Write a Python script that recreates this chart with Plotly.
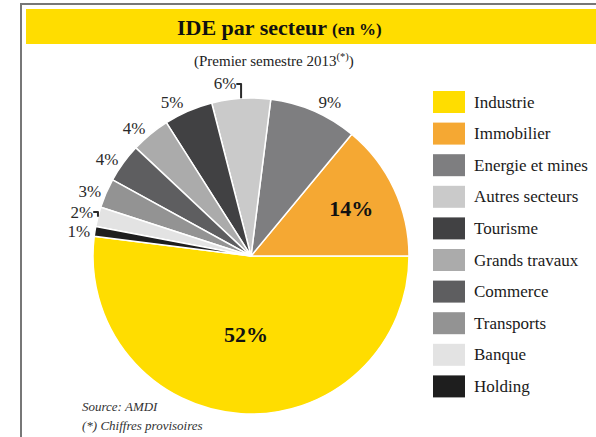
import plotly.graph_objects as go

# ---- data ----
categories = ["Industrie", "Immobilier", "Energie et mines", "Autres secteurs", "Tourisme",
              "Grands travaux", "Commerce", "Transports", "Banque", "Holding"]
values = [52, 14, 9, 6, 5, 4, 4, 3, 2, 1]
colors = ["#FFDD00", "#F5A833", "#7E7E80", "#CACACA", "#414143",
          "#ABABAB", "#5E5E60", "#939393", "#E3E3E3", "#1E1E1E"]
text_positions = ["inside", "inside"] + ["outside"] * 8
text_templates = ["<b>%{value}%</b>", "<b>%{value}%</b>"] + ["%{value}%"] * 8

W, H = 596, 437
SERIF = "Liberation Serif"

def px(x):
    return x / W

def py(y):
    return 1 - y / H

fig = go.Figure()
fig.add_trace(go.Pie(
    labels=categories,
    values=values,
    sort=False,
    direction="counterclockwise",
    rotation=90,
    marker=dict(colors=colors, line=dict(color="white", width=1.5)),
    texttemplate=text_templates,
    textposition=text_positions,
    insidetextorientation="horizontal",
    insidetextfont=dict(family=SERIF, size=22, color="#111"),
    outsidetextfont=dict(family=SERIF, size=17, color="#2a2a2a"),
    showlegend=False,
    domain=dict(x=[px(93), px(409)], y=[py(414), py(98)]),
))

shapes = [
    # title bar
    dict(type="rect", xref="paper", yref="paper", x0=px(26), x1=1, y0=py(44), y1=py(9),
         fillcolor="#FFDD00", line=dict(width=0), layer="below"),
    # frame
    dict(type="path", xref="paper", yref="paper",
         path=f"M {px(21)} 0 L {px(21)} {py(4)} L 1 {py(4)}",
         line=dict(color="#777", width=2)),
]
annotations = [
    dict(text="<b>IDE par secteur <span style='font-size:17px'>(en %)</span></b>",
         x=px(279), y=py(27), xref="paper", yref="paper", showarrow=False,
         font=dict(family=SERIF, size=22, color="#111"), xanchor="center", yanchor="middle"),
    dict(text="(Premier semestre 2013<sup>(*)</sup>)",
         x=px(274), y=py(60), xref="paper", yref="paper", showarrow=False,
         font=dict(family=SERIF, size=15, color="#222"), xanchor="center", yanchor="middle"),
    dict(text="<i>Source: AMDI</i>", x=px(80), y=py(406), xref="paper", yref="paper",
         showarrow=False, font=dict(family=SERIF, size=13, color="#333"),
         xanchor="left", yanchor="middle"),
    dict(text="<i>(*) Chiffres provisoires</i>", x=px(80), y=py(425), xref="paper", yref="paper",
         showarrow=False, font=dict(family=SERIF, size=13, color="#333"),
         xanchor="left", yanchor="middle"),
]

# custom legend
for i, (lab, col) in enumerate(zip(categories, colors)):
    top = 91 + i * 31.6
    shapes.append(dict(type="rect", xref="paper", yref="paper",
                       x0=px(433), x1=px(465), y0=py(top + 22), y1=py(top),
                       fillcolor=col, line=dict(width=0)))
    annotations.append(dict(text=lab, x=px(472), y=py(top + 11), xref="paper", yref="paper",
                            showarrow=False, xanchor="left", yanchor="middle",
                            font=dict(family=SERIF, size=17, color="#1a1a1a")))

fig.update_layout(
    width=W, height=H,
    margin=dict(l=0, r=0, t=0, b=0),
    paper_bgcolor="white",
    plot_bgcolor="white",
    shapes=shapes,
    annotations=annotations,
)

fig.write_html("out.html", config={"displayModeBar": False},
               post_script="document.body.style.margin='0';")
